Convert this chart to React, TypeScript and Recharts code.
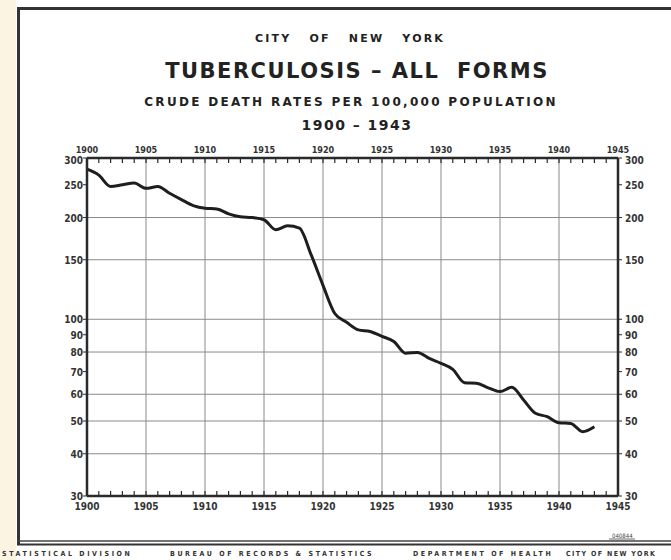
import React from "react";
import { LineChart, Line, XAxis, YAxis, ReferenceLine } from "recharts";

// crude death rates per 100,000, tuberculosis all forms, NYC
const years = [
  1900, 1901, 1902, 1903, 1904, 1905, 1906, 1907, 1908, 1909,
  1910, 1911, 1912, 1913, 1914, 1915, 1916, 1917, 1918, 1919,
  1920, 1921, 1922, 1923, 1924, 1925, 1926, 1927, 1928, 1929,
  1930, 1931, 1932, 1933, 1934, 1935, 1936, 1937, 1938, 1939,
  1940, 1941, 1942, 1943,
];
const rates = [
  278, 267, 247, 250, 253, 244, 247, 236, 226, 217,
  213, 212, 205, 201, 200, 197, 184, 189, 186, 155,
  126, 104, 98, 93, 92, 89, 86, 79.3, 79.8, 76.6,
  74.1, 71.1, 64.9, 64.7, 62.7, 61.1, 62.9, 57.7, 52.7, 51.5,
  49.4, 49.2, 46.5, 48.1,
];

const yearTicks = [...years, 1944, 1945];
const gridYears = [1905, 1910, 1915, 1920, 1925, 1930, 1935, 1940];
const rateTicks = [30, 40, 50, 60, 70, 80, 90, 100, 150, 200, 250, 300];
const gridRates = [40, 50, 60, 80, 100, 150, 200];

const data = years.map((year, i) => ({ year, rate: rates[i] }));

const ink = "#2a2a2a";
const grid = "#8a8a8a";
const labelFont = "'DejaVu Sans Condensed', 'DejaVu Sans', sans-serif";

const BottomTick = (props: any) => {
  const { x, y, payload } = props;
  const major = payload.value % 5 === 0;
  return (
    <g>
      <line x1={x} x2={x} y1={y} y2={y - 5} stroke={ink} strokeWidth={1.2} />
      {major && (
        <text x={x} y={y + 14} textAnchor="middle" fontSize={10} fontWeight="bold"
          fontFamily={labelFont} fill="#333">
          {payload.value}
        </text>
      )}
    </g>
  );
};

const TopTick = (props: any) => {
  const { x, y, payload } = props;
  const major = payload.value % 5 === 0;
  return (
    <g>
      <line x1={x} x2={x} y1={y} y2={y + 5} stroke={ink} strokeWidth={1.2} />
      {major && (
        <text x={x} y={y - 5} textAnchor="middle" fontSize={9} fontWeight="bold"
          fontFamily={labelFont} fill="#333">
          {payload.value}
        </text>
      )}
    </g>
  );
};

// y labels; the top one sits a little lower so it clears the year labels
const SideTick = (props: any) => {
  const { x, y, payload, textAnchor } = props;
  const dy = payload.value === 300 ? 6 : 4;
  return (
    <text x={x} y={y + dy} textAnchor={textAnchor} fontSize={10} fontWeight="bold"
      fontFamily={labelFont} fill="#333">
      {payload.value}
    </text>
  );
};

export default function App() {
  return (
    <div style={{ position: "absolute", left: 0, top: 0, width: 671, height: 560, background: "#fff", overflow: "hidden" }}>
      <div style={{ position: "absolute", left: 0, top: 0, width: 16, height: 560, background: "#fcf4e2" }} />
      <LineChart
        width={671}
        height={560}
        data={data}
        margin={{ top: 138, right: 13, bottom: 44, left: 47 }}
      >
        <XAxis
          xAxisId="bottom"
          dataKey="year"
          type="number"
          domain={[1900, 1945]}
          ticks={yearTicks}
          interval={0}
          height={20}
          tickSize={0}
          tickMargin={0}
          tick={<BottomTick />}
          axisLine={{ stroke: ink, strokeWidth: 2.5 }}
          tickLine={false}
        />
        <XAxis
          xAxisId="top"
          orientation="top"
          dataKey="year"
          type="number"
          domain={[1900, 1945]}
          ticks={yearTicks}
          interval={0}
          height={20}
          tickSize={0}
          tickMargin={0}
          tick={<TopTick />}
          axisLine={{ stroke: ink, strokeWidth: 2.5 }}
          tickLine={false}
        />
        <YAxis
          yAxisId="left"
          type="number"
          scale="log"
          domain={[30, 300]}
          allowDataOverflow
          ticks={rateTicks}
          interval={0}
          width={40}
          tickSize={4}
          tickMargin={0}
          tick={<SideTick />}
          tickLine={{ stroke: ink }}
          axisLine={{ stroke: ink, strokeWidth: 2.5 }}
        />
        <YAxis
          yAxisId="right"
          orientation="right"
          type="number"
          scale="log"
          domain={[30, 300]}
          allowDataOverflow
          ticks={rateTicks}
          interval={0}
          width={40}
          tickSize={4}
          tickMargin={3}
          tick={<SideTick />}
          tickLine={{ stroke: ink }}
          axisLine={{ stroke: ink, strokeWidth: 2.5 }}
        />
        {gridRates.map((r) => (
          <ReferenceLine key={"h" + r} y={r} yAxisId="left" xAxisId="bottom" stroke={grid} strokeWidth={1} />
        ))}
        {gridYears.map((yr) => (
          <ReferenceLine key={"v" + yr} x={yr} yAxisId="left" xAxisId="bottom" stroke={grid} strokeWidth={1} />
        ))}
        <Line
          xAxisId="bottom"
          yAxisId="left"
          dataKey="rate"
          type="monotone"
          stroke="#1e1e1e"
          strokeWidth={3}
          dot={false}
          isAnimationActive={false}
        />
      </LineChart>
      <svg width={671} height={560} style={{ position: "absolute", left: 0, top: 0, pointerEvents: "none" }}>
        <line x1={18.5} x2={18.5} y1={7} y2={545} stroke="#333" strokeWidth={3} />
        <line x1={17} x2={671} y1={8.5} y2={8.5} stroke="#333" strokeWidth={3} />
        <line x1={17} x2={671} y1={541} y2={541} stroke="#444" strokeWidth={1.5} />
        <line x1={17} x2={671} y1={544.5} y2={544.5} stroke="#333" strokeWidth={2} />
        <g fontFamily="'DejaVu Sans', sans-serif" fontWeight="bold" fill="#222" textAnchor="middle">
          <text x={350} y={42} fontSize={11} letterSpacing={2.2}>CITY{"\u00a0\u00a0\u00a0"}OF{"\u00a0\u00a0\u00a0"}NEW{"\u00a0\u00a0\u00a0"}YORK</text>
          <text x={357} y={78} fontSize={21} letterSpacing={1.5}>TUBERCULOSIS {"\u2013"} ALL{"\u00a0\u00a0"}FORMS</text>
          <text x={351} y={106} fontSize={12} letterSpacing={2.3}>CRUDE DEATH RATES PER 100,000 POPULATION</text>
          <text x={357} y={130} fontSize={14} letterSpacing={1.5}>1900 {"\u2013"} 1943</text>
        </g>
        <text x={612} y={538} fontSize={6} fontFamily={labelFont} fill="#444">040844</text>
        <line x1={609} x2={635} y1={539} y2={539} stroke="#444" strokeWidth={0.8} />
        <g fontFamily={labelFont} fontSize={7} fontWeight="bold" fill="#333" letterSpacing={2.6}>
          <text x={2} y={556}>STATISTICAL DIVISION</text>
          <text x={170} y={556}>BUREAU OF RECORDS &amp; STATISTICS</text>
          <text x={413} y={556}>DEPARTMENT OF HEALTH</text>
          <text x={566} y={556} letterSpacing={1.4}>CITY OF NEW YORK</text>
        </g>
      </svg>
    </div>
  );
}
